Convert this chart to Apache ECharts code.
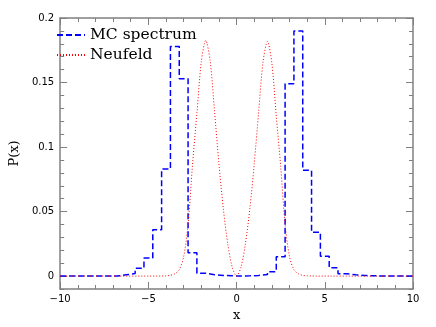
<!DOCTYPE html>
<html>
<head>
<meta charset="utf-8">
<script src="https://cdn.jsdelivr.net/npm/echarts@6/dist/echarts.min.js"></script>
<style>
  html, body { margin: 0; padding: 0; background: #fff; }
  #chart { width: 436px; height: 327px; }
</style>
</head>
<body>
<div id="chart"></div>
<script>
// MC histogram: bin centres (width 0.5) and heights
var histCenters = [-7, -6.5, -6, -5.5, -5, -4.5, -4, -3.5, -3, -2.5, -2, -1.5, -1, -0.5, 0,
                   0.5, 1, 1.5, 2, 2.5, 3, 3.5, 4, 4.5, 5, 5.5, 6, 6.5, 7, 7.5];
var histValues = [0, 0.001, 0.002, 0.006, 0.014, 0.036, 0.083, 0.178, 0.153, 0.018, 0.0023, 0.001, 0.0005, 0.0002, 0,
                  0.0002, 0.0005, 0.0013, 0.0033, 0.015, 0.149, 0.190, 0.082, 0.034, 0.0153, 0.0064, 0.0018, 0.001, 0.0005, 0.0002];

// Neufeld curve
var neufeldX = [-10, -4.5, -4.25, -4, -3.75, -3.5, -3.25, -3, -2.75, -2.5, -2.25, -2, -1.75, -1.5, -1.25, -1, -0.75, -0.5, -0.25, 0,
                0.25, 0.5, 0.75, 1, 1.25, 1.5, 1.75, 2, 2.25, 2.5, 2.75, 3, 3.25, 3.5, 3.75, 4, 4.25, 4.5, 10];
var neufeldY = [0, 0, 0.0001, 0.0002, 0.0006, 0.0018, 0.005, 0.015, 0.040, 0.086, 0.126, 0.166, 0.1826, 0.167, 0.128, 0.087, 0.052, 0.025, 0.007, 0,
                0.007, 0.025, 0.052, 0.087, 0.127, 0.166, 0.1818, 0.165, 0.124, 0.085, 0.040, 0.015, 0.005, 0.0018, 0.0006, 0.0002, 0.0001, 0, 0];

var yMajorTicks = [0, 0.05, 0.1, 0.15, 0.2];
var yMinorTicks = [-0.01, 0.01, 0.02, 0.03, 0.04, 0.06, 0.07, 0.08, 0.09, 0.11, 0.12, 0.13, 0.14, 0.16, 0.17, 0.18, 0.19];

var binHalf = 0.25;
var histPoints = [[-10, 0]];
for (var i = 0; i < histCenters.length; i++) {
    histPoints.push([histCenters[i] - binHalf, histValues[i]]);
}
histPoints.push([histCenters[histCenters.length - 1] + binHalf, 0]);
histPoints.push([10, 0]);

var neufeldPoints = neufeldX.map(function (x, i) { return [x, neufeldY[i]]; });

var axisCol = '#808080';
var tickFont = 'DejaVu Sans';

function minus(v) { return String(v).replace('-', '\u2212'); }

var chart = echarts.init(document.getElementById('chart'));

chart.setOption({
    animation: false,
    grid: { left: 47, right: 23, top: 18, bottom: 35 },
    legend: {
        orient: 'vertical',
        left: 56,
        top: 27,
        padding: 0,
        itemWidth: 28,
        itemHeight: 12,
        itemGap: 4,
        itemStyle: { opacity: 0 },
        textStyle: { fontFamily: 'DejaVu Serif', fontSize: 15.5, color: '#000' },
        data: ['MC spectrum', 'Neufeld']
    },
    xAxis: [{
        type: 'value', min: -10, max: 10, interval: 5,
        name: 'x', nameLocation: 'middle', nameGap: 20,
        nameTextStyle: { fontFamily: 'DejaVu Serif', fontSize: 13, color: '#000' },
        axisLine: { show: true, onZero: false, lineStyle: { color: axisCol, width: 1.5 } },
        axisTick: { inside: true, length: 7, lineStyle: { color: axisCol } },
        minorTick: { show: true, splitNumber: 5, length: 4, lineStyle: { color: axisCol } },
        axisLabel: { fontFamily: tickFont, fontSize: 10, color: '#000', margin: 5, formatter: minus },
        splitLine: { show: false }
    }, {
        type: 'value', min: -10, max: 10, interval: 5, position: 'top',
        axisLine: { show: true, onZero: false, lineStyle: { color: axisCol, width: 1.5 } },
        axisTick: { inside: true, length: 7, lineStyle: { color: axisCol } },
        minorTick: { show: true, splitNumber: 5, length: 4, lineStyle: { color: axisCol } },
        axisLabel: { show: false },
        splitLine: { show: false }
    }],
    yAxis: [{
        type: 'value', min: -0.01, max: 0.2, position: 'left',
        name: 'P(x)', nameLocation: 'middle', nameGap: 36, nameRotate: 90,
        nameTextStyle: { fontFamily: 'DejaVu Serif', fontSize: 13, color: '#000' },
        axisLine: { show: true, onZero: false, lineStyle: { color: axisCol, width: 1.5 } },
        axisTick: { inside: true, length: 7, customValues: yMajorTicks, lineStyle: { color: axisCol } },
        axisLabel: { fontFamily: tickFont, fontSize: 10, color: '#000', margin: 6, customValues: yMajorTicks },
        splitLine: { show: false }
    }, {
        type: 'value', min: -0.01, max: 0.2, position: 'left',
        axisLine: { show: false, onZero: false },
        axisTick: { inside: true, length: 4, customValues: yMinorTicks, lineStyle: { color: axisCol } },
        axisLabel: { show: false, customValues: yMinorTicks },
        splitLine: { show: false }
    }, {
        type: 'value', min: -0.01, max: 0.2, position: 'right',
        axisLine: { show: true, onZero: false, lineStyle: { color: axisCol, width: 1.5 } },
        axisTick: { inside: true, length: 7, customValues: yMajorTicks, lineStyle: { color: axisCol } },
        axisLabel: { show: false, customValues: yMajorTicks },
        splitLine: { show: false }
    }, {
        type: 'value', min: -0.01, max: 0.2, position: 'right',
        axisLine: { show: false, onZero: false },
        axisTick: { inside: true, length: 4, customValues: yMinorTicks, lineStyle: { color: axisCol } },
        axisLabel: { show: false, customValues: yMinorTicks },
        splitLine: { show: false }
    }],
    series: [{
        name: 'MC spectrum',
        type: 'line',
        step: 'end',
        showSymbol: false,
        symbol: 'none',
        data: histPoints,
        itemStyle: { color: '#0000ff' },
        lineStyle: { color: '#0000ff', width: 1.5, type: [6, 3] }
    }, {
        name: 'Neufeld',
        type: 'line',
        smooth: 0.3,
        showSymbol: false,
        symbol: 'none',
        data: neufeldPoints,
        itemStyle: { color: '#ff0000' },
        lineStyle: { color: '#ff0000', width: 1, type: [1, 2] }
    }]
});
</script>
</body>
</html>
